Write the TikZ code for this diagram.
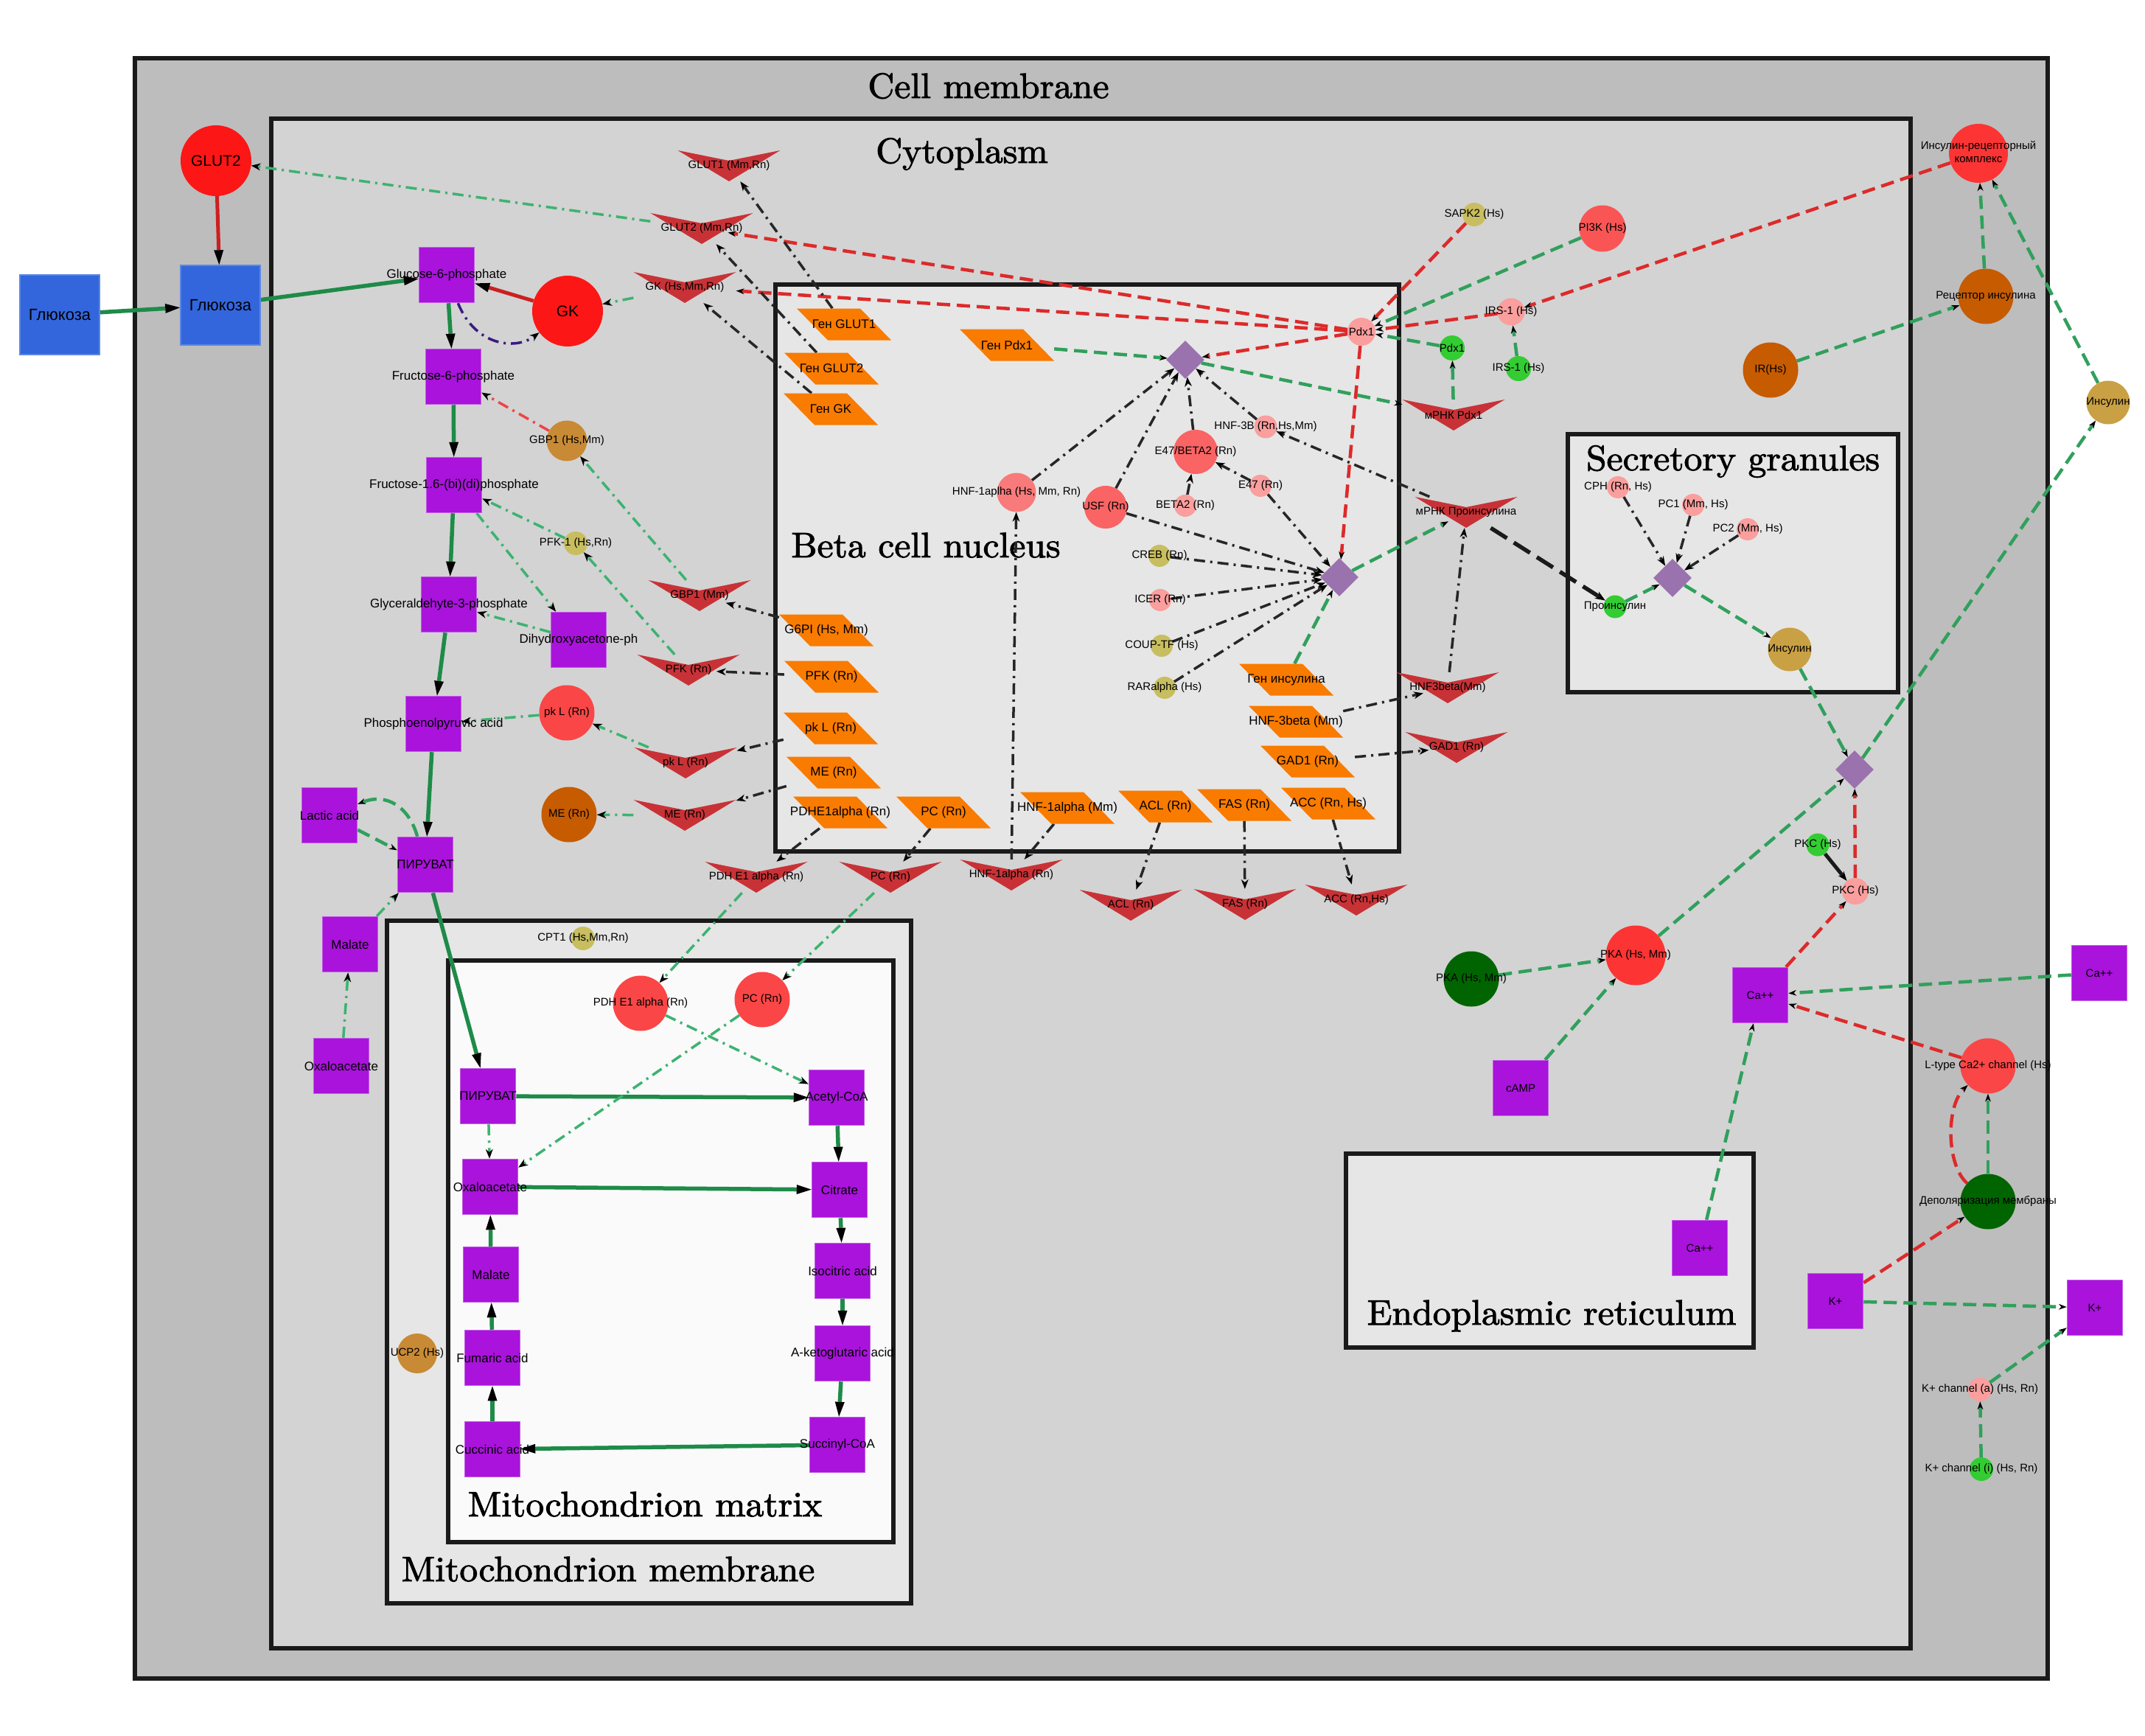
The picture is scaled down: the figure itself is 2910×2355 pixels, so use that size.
\documentclass[tikz,border=0pt]{standalone}
\usepackage{fontspec}
\newfontfamily\lsans{Liberation Sans}
\newfontfamily\titlefont{lmroman10-regular.otf}[FakeBold=2,FakeStretch=1.035]
\usetikzlibrary{arrows.meta,shapes.geometric}
\pgfdeclarelayer{bg}
\pgfdeclarelayer{edgelayer}
\pgfsetlayers{bg,edgelayer,main}
\definecolor{cmem}{HTML}{BDBDBD}
\definecolor{ccyt}{HTML}{D3D3D3}
\definecolor{cin}{HTML}{E6E6E6}
\definecolor{cmat}{HTML}{FAFAFA}
\definecolor{cbord}{HTML}{1A1A1A}
\definecolor{purp}{HTML}{A913DB}
\definecolor{purpb}{HTML}{C25EE6}
\definecolor{bluec}{HTML}{3366DD}
\definecolor{blueb}{HTML}{5A86E6}
\definecolor{redbig}{HTML}{FC1616}
\definecolor{redsal}{HTML}{FA4646}
\definecolor{redpka}{HTML}{FC3434}
\definecolor{redpi}{HTML}{FA5555}
\definecolor{redusf}{HTML}{FA6464}
\definecolor{redhnf}{HTML}{F87A7A}
\definecolor{pinkc}{HTML}{FA9E9E}
\definecolor{khaki}{HTML}{C8BE60}
\definecolor{brownc}{HTML}{C65B00}
\definecolor{tanc}{HTML}{C88A35}
\definecolor{insc}{HTML}{C9A043}
\definecolor{lgreen}{HTML}{33CC33}
\definecolor{dgreenc}{HTML}{006400}
\definecolor{parc}{HTML}{F97B00}
\definecolor{chevc}{HTML}{C83236}
\definecolor{diac}{HTML}{9A72AE}
\definecolor{eThick}{HTML}{1E8B48}
\definecolor{eRed}{HTML}{CC2020}
\definecolor{eGdash}{HTML}{30A05C}
\definecolor{eRdash}{HTML}{DD2A2A}
\definecolor{eGdd}{HTML}{3CB371}
\definecolor{eKdd}{HTML}{262626}
\definecolor{eRdd}{HTML}{EE4545}
\definecolor{ePdd}{HTML}{3A1A80}
\newcommand{\zl}[1]{\makebox[0pt]{#1}}
\newcommand{\lblS}{\lsans\fontsize{15}{18}\selectfont}
\newcommand{\lblM}{\lsans\fontsize{17}{20}\selectfont}
\newcommand{\lblB}{\lsans\fontsize{21}{25}\selectfont}
\newcommand{\lblG}{\lsans\fontsize{22}{26}\selectfont}
\newcommand{\lblT}{\titlefont\fontsize{48}{58}\selectfont}
\begin{document}
\begin{tikzpicture}[x=1pt,y=-1pt,
 sqp/.style={rectangle, fill=purp, draw=purpb, line width=1.5pt, minimum width=75pt, minimum height=75pt, inner sep=0pt, font=\lblM},
 sqb/.style={rectangle, fill=bluec, draw=blueb, line width=1.5pt, minimum width=108pt, minimum height=108pt, inner sep=0pt, font=\lblG},
 cir/.style={circle, inner sep=0pt, font=\lblS},
 parl/.style={rectangle, minimum width=128pt, minimum height=43pt, inner sep=0pt, font=\lblM,
   path picture={\fill[parc] (path picture bounding box.north west) -- ([xshift=86pt]path picture bounding box.north west) -- (path picture bounding box.south east) -- ([xshift=-86pt]path picture bounding box.south east) -- cycle;}},
 chev/.style={rectangle, minimum width=139pt, minimum height=42pt, inner sep=0pt, font=\lblS,
   path picture={\fill[chevc] (path picture bounding box.north west) -- ([yshift=-14pt]path picture bounding box.north) -- (path picture bounding box.north east) -- (path picture bounding box.south) -- cycle;}},
 dia/.style={diamond, fill=diac, minimum width=52pt, minimum height=52pt, inner sep=0pt},
 ttl/.style={font=\lblT, anchor=base, inner sep=0pt},
 box/.style={draw=cbord, line width=6pt},
 ethick/.style={draw=eThick, line width=5.5pt, -{Triangle[length=20pt,width=13pt,color=black,line width=0pt]}},
 ered/.style={draw=eRed, line width=5pt, -{Triangle[length=20pt,width=13pt,color=black,line width=0pt]}},
 egd/.style={draw=eGdash, line width=4.5pt, dash pattern=on 18pt off 9pt, -{Stealth[length=11pt,width=8pt,color=black,line width=0pt]}},
 erd/.style={draw=eRdash, line width=4.5pt, dash pattern=on 18pt off 9pt, -{Stealth[length=11pt,width=8pt,color=black,line width=0pt]}},
 ekd/.style={draw=cbord, line width=5.5pt, dash pattern=on 26pt off 11pt, -{Stealth[length=14pt,width=11pt,color=black,line width=0pt]}},
 egdd/.style={draw=eGdd, line width=3.5pt, dash pattern=on 15pt off 7pt on 3pt off 7pt, -{Stealth[length=13pt,width=10pt,color=black,line width=0pt]}},
 ekdd/.style={draw=eKdd, line width=3.5pt, dash pattern=on 15pt off 7pt on 3pt off 7pt, -{Stealth[length=13pt,width=10pt,color=black,line width=0pt]}},
 erdd/.style={draw=eRdd, line width=3.5pt, dash pattern=on 15pt off 7pt on 3pt off 7pt, -{Stealth[length=13pt,width=10pt,color=black,line width=0pt]}},
 epdd/.style={draw=ePdd, line width=3.5pt, dash pattern=on 15pt off 7pt on 3pt off 7pt, -{Stealth[length=13pt,width=10pt,color=black,line width=0pt]}},
 eks/.style={draw=cbord, line width=5pt, -{Stealth[length=13pt,width=10pt,color=black,line width=0pt]}}
]
\useasboundingbox (0,0) rectangle (2910,2355);
\begin{pgfonlayer}{bg}
\fill[white] (0,0) rectangle (2910,2355);
\filldraw[box, fill=cmem] (183,79) rectangle (2778,2277);
\filldraw[box, fill=ccyt] (368,161) rectangle (2592,2236);
\filldraw[box, fill=cin] (1052,386) rectangle (1898,1155);
\filldraw[box, fill=cin] (2127,589) rectangle (2575,939);
\filldraw[box, fill=cin] (1826,1565) rectangle (2379,1828);
\filldraw[box, fill=cin] (525,1249) rectangle (1236,2175);
\filldraw[box, fill=cmat] (608,1303) rectangle (1212,2092);
\node[ttl] (tcell) at (1341,133) {Cell membrane};
\node[ttl] (tcyto) at (1305,221) {Cytoplasm};
\node[ttl] (tnuc) at (1256,756) {Beta cell nucleus};
\node[ttl] (tsec) at (2351,638) {Secretory granules};
\node[ttl] (ter) at (2105,1797) {Endoplasmic reticulum};
\node[ttl] (tmat) at (875,2057) {Mitochondrion matrix};
\node[ttl] (tmem) at (825,2145) {Mitochondrion membrane};
\end{pgfonlayer}

% squares
\node[sqb] (glcout) at (81,427) {\zl{Глюкоза}};
\node[sqb] (glcin) at (299,414) {\zl{Глюкоза}};
\node[sqp] (g6p) at (606,373) {\zl{Glucose-6-phosphate}};
\node[sqp] (f6p) at (615,511) {\zl{Fructose-6-phosphate}};
\node[sqp] (f16) at (616,658) {\zl{Fructose-1.6-(bi)(di)phosphate}};
\node[sqp] (g3p) at (609,820) {\zl{Glyceraldehyte-3-phosphate}};
\node[sqp] (dhap) at (785,868) {\zl{Dihydroxyacetone-ph}};
\node[sqp] (pep) at (588,982) {\zl{Phosphoenolpyruvic acid}};
\node[sqp] (lactic) at (447,1106) {\zl{Lactic acid}};
\node[sqp] (pyr) at (577,1173) {\zl{ПИРУВАТ}};
\node[sqp] (malc) at (475,1281) {\zl{Malate}};
\node[sqp] (oxac) at (463,1446) {\zl{Oxaloacetate}};
\node[sqp] (pyrm) at (662,1487) {\zl{ПИРУВАТ}};
\node[sqp] (acoa) at (1135,1489) {\zl{Acetyl-CoA}};
\node[sqp] (oxam) at (665,1610) {\zl{Oxaloacetate}};
\node[sqp] (citr) at (1139,1614) {\zl{Citrate}};
\node[sqp] (malm) at (666,1729) {\zl{Malate}};
\node[sqp] (isoc) at (1143,1724) {\zl{Isocitric acid}};
\node[sqp] (fum) at (668,1842) {\zl{Fumaric acid}};
\node[sqp] (akg) at (1143,1836) {\zl{A-ketoglutaric acid}};
\node[sqp] (succ) at (668,1966) {\zl{Cuccinic acid}};
\node[sqp] (sucoa) at (1136,1960) {\zl{Succinyl-CoA}};
\node[sqp, font=\lblS] (camp) at (2063,1476) {\zl{cAMP}};
\node[sqp, font=\lblS] (cacyt) at (2388,1350) {\zl{Ca++}};
\node[sqp, font=\lblS] (caout) at (2848,1320) {\zl{Ca++}};
\node[sqp, font=\lblS] (caer) at (2306,1693) {\zl{Ca++}};
\node[sqp, font=\lblS] (kcyt) at (2490,1765) {\zl{K+}};
\node[sqp, font=\lblS] (kout) at (2842,1774) {\zl{K+}};

% circles
\node[cir, fill=redbig, minimum size=96pt, font=\lblB] (glut2) at (293,218) {\zl{GLUT2}};
\node[cir, fill=redbig, minimum size=96pt, font=\lblB] (gk) at (770,422) {\zl{GK}};
\node[cir, fill=tanc, minimum size=55pt] (gbp1c) at (769,598) {\zl{GBP1 (Hs,Mm)}};
\node[cir, fill=khaki, minimum size=32pt] (pfk1) at (781,737) {\zl{PFK-1 (Hs,Rn)}};
\node[cir, fill=redsal, minimum size=75pt] (pklc) at (769,967) {\zl{pk L (Rn)}};
\node[cir, fill=brownc, minimum size=75pt] (mec) at (772,1105) {\zl{ME (Rn)}};
\node[cir, fill=khaki, minimum size=32pt] (cpt1) at (791,1273) {\zl{CPT1 (Hs,Mm,Rn)}};
\node[cir, fill=redsal, minimum size=75pt] (pdhc) at (869,1361) {\zl{PDH E1 alpha (Rn)}};
\node[cir, fill=redsal, minimum size=75pt] (pcc) at (1034,1356) {\zl{PC (Rn)}};
\node[cir, fill=tanc, minimum size=54pt] (ucp2) at (566,1836) {\zl{UCP2 (Hs)}};
\node[cir, fill=pinkc, minimum size=38pt] (pdx1p) at (1847,450) {\zl{Pdx1}};
\node[cir, fill=pinkc, minimum size=31pt] (hnf3b) at (1717,579) {\zl{HNF-3B (Rn,Hs,Mm)}};
\node[cir, fill=redusf, minimum size=60pt] (e47b2) at (1622,613) {\zl{E47/BETA2 (Rn)}};
\node[cir, fill=pinkc, minimum size=30pt] (e47) at (1710,659) {\zl{E47 (Rn)}};
\node[cir, fill=pinkc, minimum size=30pt] (beta2) at (1608,686) {\zl{BETA2 (Rn)}};
\node[cir, fill=redhnf, minimum size=53pt] (hnf1a) at (1379,668) {\zl{HNF-1aplha (Hs, Mm, Rn)}};
\node[cir, fill=redusf, minimum size=58pt] (usf) at (1500,688) {\zl{USF (Rn)}};
\node[cir, fill=khaki, minimum size=30pt] (creb) at (1573,754) {\zl{CREB (Rn)}};
\node[cir, fill=pinkc, minimum size=30pt] (icer) at (1574,814) {\zl{ICER (Rn)}};
\node[cir, fill=khaki, minimum size=30pt] (coup) at (1576,876) {\zl{COUP-TF (Hs)}};
\node[cir, fill=khaki, minimum size=30pt] (rar) at (1580,933) {\zl{RARalpha (Hs)}};
\node[cir, fill=khaki, minimum size=32pt] (sapk2) at (2000,291) {\zl{SAPK2 (Hs)}};
\node[cir, fill=redpi, minimum size=63pt] (pi3k) at (2174,310) {\zl{PI3K (Hs)}};
\node[cir, fill=pinkc, minimum size=37pt] (irs1p) at (2050,423) {\zl{IRS-1 (Hs)}};
\node[cir, fill=lgreen, minimum size=34pt] (pdx1g) at (1970,472) {\zl{Pdx1}};
\node[cir, fill=lgreen, minimum size=34pt] (irs1g) at (2060,500) {\zl{IRS-1 (Hs)}};
\node[cir, fill=brownc, minimum size=75pt] (ir) at (2402,502) {\zl{IR(Hs)}};
\node[cir, fill=brownc, minimum size=75pt] (recep) at (2694,402) {\zl{Рецептор инсулина}};
\node[cir, fill=redpka, minimum size=80pt] (complex) at (2684,208) {\zl{\begin{tabular}{@{}c@{}}Инсулин-рецепторный\\комплекс\end{tabular}}};
\node[cir, fill=insc, minimum size=59pt] (insout) at (2860,546) {\zl{Инсулин}};
\node[cir, fill=pinkc, minimum size=30pt] (cph) at (2195,661) {\zl{CPH (Rn, Hs)}};
\node[cir, fill=pinkc, minimum size=30pt] (pc1) at (2297,685) {\zl{PC1 (Mm, Hs)}};
\node[cir, fill=pinkc, minimum size=30pt] (pc2) at (2371,718) {\zl{PC2 (Mm, Hs)}};
\node[cir, fill=lgreen, minimum size=31pt] (proins) at (2191,823) {\zl{Проинсулин}};
\node[cir, fill=insc, minimum size=59pt] (insgr) at (2428,881) {\zl{Инсулин}};
\node[cir, fill=dgreenc, minimum size=75pt] (pkag) at (1996,1328) {\zl{PKA (Hs, Mm)}};
\node[cir, fill=redpka, minimum size=81pt] (pkar) at (2219,1296) {\zl{PKA (Hs, Mm)}};
\node[cir, fill=lgreen, minimum size=31pt] (pkcg) at (2466,1146) {\zl{PKC (Hs)}};
\node[cir, fill=pinkc, minimum size=36pt] (pkcp) at (2517,1209) {\zl{PKC (Hs)}};
\node[cir, fill=redsal, minimum size=75pt] (ltype) at (2697,1446) {\zl{L-type Ca2+ channel (Hs)}};
\node[cir, fill=dgreenc, minimum size=75pt] (depol) at (2697,1630) {\zl{Деполяризация мембраны}};
\node[cir, fill=pinkc, minimum size=32pt] (kcha) at (2686,1885) {\zl{K+ channel (a) (Hs, Rn)}};
\node[cir, fill=lgreen, minimum size=32pt] (kchi) at (2688,1993) {\zl{K+ channel (i) (Hs, Rn)}};

% parallelograms (genes)
\node[parl] (ggl1) at (1145,440) {\zl{Ген GLUT1}};
\node[parl] (ggl2) at (1128,500) {\zl{Ген GLUT2}};
\node[parl] (ggk) at (1127,555) {\zl{Ген GK}};
\node[parl] (gpdx) at (1366,468) {\zl{Ген Pdx1}};
\node[parl] (g6pi) at (1121,855) {\zl{G6PI (Hs, Mm)}};
\node[parl] (pfkp) at (1128,918) {\zl{PFK (Rn)}};
\node[parl] (pklp) at (1127,988) {\zl{pk L (Rn)}};
\node[parl] (mep) at (1131,1048) {\zl{ME (Rn)}};
\node[parl] (pdhp) at (1140,1102) {\zl{PDHE1alpha (Rn)}};
\node[parl] (pcp) at (1280,1102) {\zl{PC (Rn)}};
\node[parl] (gins) at (1745,922) {\zl{Ген инсулина}};
\node[parl] (hnf3bp) at (1758,979) {\zl{HNF-3beta (Mm)}};
\node[parl] (gad1p) at (1774,1033) {\zl{GAD1 (Rn)}};
\node[parl] (hnf1ap) at (1448,1096) {\zl{HNF-1alpha (Mm)}};
\node[parl] (aclp) at (1581,1094) {\zl{ACL (Rn)}};
\node[parl] (fasp) at (1688,1092) {\zl{FAS (Rn)}};
\node[parl] (accp) at (1802,1090) {\zl{ACC (Rn, Hs)}};

% chevrons (mRNA)
\node[chev] (glut1ch) at (989,225) {\zl{GLUT1 (Mm,Rn)}};
\node[chev] (glut2ch) at (952,310) {\zl{GLUT2 (Mm,Rn)}};
\node[chev] (gkch) at (929,390) {\zl{GK (Hs,Mm,Rn)}};
\node[chev] (gbp1ch) at (949,808) {\zl{GBP1 (Mm)}};
\node[chev] (pfkch) at (934,909) {\zl{PFK (Rn)}};
\node[chev] (pklch) at (930,1035) {\zl{pk L (Rn)}};
\node[chev] (mech) at (929,1106) {\zl{ME (Rn)}};
\node[chev] (pdhch) at (1026,1190) {\zl{PDH E1 alpha (Rn)}};
\node[chev] (pcch) at (1208,1190) {\zl{PC (Rn)}};
\node[chev] (hnf1ach) at (1372,1187) {\zl{HNF-1alpha (Rn)}};
\node[chev] (aclch) at (1534,1228) {\zl{ACL (Rn)}};
\node[chev] (fasch) at (1689,1227) {\zl{FAS (Rn)}};
\node[chev] (accch) at (1840,1221) {\zl{ACC (Rn,Hs)}};
\node[chev] (hnf3bch) at (1964,933) {\zl{HNF3beta(Mm)}};
\node[chev] (gad1ch) at (1976,1014) {\zl{GAD1 (Rn)}};
\node[chev] (mpdx) at (1972,563) {\zl{мРНК Pdx1}};
\node[chev] (mpro) at (1989,695) {\zl{мРНК Проинсулина}};

% diamonds
\node[dia] (d1) at (1608,488) {};
\node[dia] (d2) at (1817,783) {};
\node[dia] (d3) at (2269,784) {};
\node[dia] (d4) at (2516,1044) {};

\begin{pgfonlayer}{edgelayer}
% main pathway
\draw[ethick] (glcout) -- (glcin);
\draw[ethick] (glcin) -- (g6p);
\draw[ethick] (g6p) -- (f6p);
\draw[ethick] (f6p) -- (f16);
\draw[ethick] (f16) -- (g3p);
\draw[ethick] (g3p) -- (pep);
\draw[ethick] (pep) -- (pyr);
\draw[ethick] (pyr) -- (pyrm);
\draw[ethick] (pyrm) -- (acoa);
\draw[ethick] (acoa) -- (citr);
\draw[ethick] (oxam) -- (citr);
\draw[ethick] (citr) -- (isoc);
\draw[ethick] (isoc) -- (akg);
\draw[ethick] (akg) -- (sucoa);
\draw[ethick] (sucoa) -- (succ);
\draw[ethick] (succ) -- (fum);
\draw[ethick] (fum) -- (malm);
\draw[ethick] (malm) -- (oxam);
\draw[ered] (glut2) -- (glcin);
\draw[ered] (gk) -- (g6p);
\draw[epdd] (g6p) .. controls (645,470) and (700,475) .. (gk);
% green dash-dot
\draw[egdd] (glut2ch) -- (glut2);
\draw[egdd] (gkch) -- (gk);
\draw[erdd] (gbp1c) -- (f6p);
\draw[egdd] (gbp1ch) -- (gbp1c);
\draw[egdd] (pfk1) -- (f16);
\draw[egdd] (pfkch) -- (pfk1);
\draw[egdd] (f16) -- (dhap);
\draw[egdd] (dhap) -- (g3p);
\draw[egdd] (pklc) -- (pep);
\draw[egdd] (pklch) -- (pklc);
\draw[egdd] (mech) -- (mec);
\draw[egdd] (malc) -- (pyr);
\draw[egdd] (oxac) -- (malc);
\draw[egdd] (pdhch) -- (pdhc);
\draw[egdd] (pcch) -- (pcc);
\draw[egdd] (pdhc) -- (acoa);
\draw[egdd] (pcc) -- (oxam);
\draw[egdd] (pyrm) -- (oxam);
% green dashed
\draw[egd] (lactic) -- (pyr);
\draw[egd] (pyr) .. controls (555,1095) and (525,1075) .. (lactic);
\draw[egd] (gpdx) -- (d1);
\draw[egd] (d1) -- (mpdx);
\draw[egd] (mpdx) -- (pdx1g);
\draw[egd] (pdx1g) -- (pdx1p);
\draw[egd] (pi3k) -- (pdx1p);
\draw[egd] (gins) -- (d2);
\draw[egd, shorten >=27pt] (d2) -- (mpro.center);
\draw[ekd] (mpro) -- (proins);
\draw[egd] (proins) -- (d3);
\draw[egd] (d3) -- (insgr);
\draw[egd] (insgr) -- (d4);
\draw[egd] (pkar) -- (d4);
\draw[egd] (d4) -- (insout);
\draw[egd] (insout) -- (complex);
\draw[egd] (recep) -- (complex);
\draw[egd] (ir) -- (recep);
\draw[egd] (irs1g) -- (irs1p);
\draw[egd] (pkag) -- (pkar);
\draw[egd] (camp) -- (pkar);
\draw[egd] (caout) -- (cacyt);
\draw[egd] (caer) -- (cacyt);
\draw[egd] (depol) -- (ltype);
\draw[egd] (kcyt) -- (kout);
\draw[egd] (kcha) -- (kout);
\draw[egd] (kchi) -- (kcha);
% red dashed
\draw[erd, shorten >=36pt] (pdx1p) -- (glut2ch.center);
\draw[erd] (pdx1p) -- (gkch);
\draw[erd] (pdx1p) -- (d1);
\draw[erd] (pdx1p) -- (d2);
\draw[erd] (sapk2) -- (pdx1p);
\draw[erd] (irs1p) -- (pdx1p);
\draw[erd] (complex) -- (irs1p);
\draw[erd] (pkcp) -- (d4);
\draw[erd] (cacyt) -- (pkcp);
\draw[erd] (ltype) -- (cacyt);
\draw[erd] (depol) .. controls (2640,1580) and (2640,1500) .. (ltype);
\draw[erd] (kcyt) -- (depol);
% black dash-dot
\draw[ekdd] (ggl1) -- (glut1ch);
\draw[ekdd] (ggl2) -- (glut2ch);
\draw[ekdd] (ggk) -- (gkch);
\draw[ekdd, shorten >=37pt] (g6pi) -- (gbp1ch.center);
\draw[ekdd, shorten >=38pt] (pfkp) -- (pfkch.center);
\draw[ekdd] (pklp) -- (pklch);
\draw[ekdd] (mep) -- (mech);
\draw[ekdd] (pdhp) -- (pdhch);
\draw[ekdd] (pcp) -- (pcch);
\draw[ekdd] (hnf1ap) -- (hnf1ach);
\draw[ekdd] (hnf1ach) -- (hnf1a);
\draw[ekdd] (aclp) -- (aclch);
\draw[ekdd] (fasp) -- (fasch);
\draw[ekdd] (accp) -- (accch);
\draw[ekdd, shorten >=34pt] (hnf3bp) -- (hnf3bch.center);
\draw[ekdd, shorten >=38pt] (gad1p) -- (gad1ch.center);
\draw[ekdd] (hnf3bch) -- (mpro);
\draw[ekdd] (mpro) -- (hnf3b);
\draw[ekdd] (hnf1a) -- (d1);
\draw[ekdd] (usf) -- (d1);
\draw[ekdd] (e47b2) -- (d1);
\draw[ekdd] (hnf3b) -- (d1);
\draw[ekdd] (beta2) -- (e47b2);
\draw[ekdd] (e47) -- (e47b2);
\draw[ekdd] (e47) -- (d2);
\draw[ekdd] (usf) -- (d2);
\draw[ekdd] (creb) -- (d2);
\draw[ekdd] (icer) -- (d2);
\draw[ekdd] (coup) -- (d2);
\draw[ekdd] (rar) -- (d2);
\draw[ekdd] (cph) -- (d3);
\draw[ekdd] (pc1) -- (d3);
\draw[ekdd] (pc2) -- (d3);
\draw[eks] (pkcg) -- (pkcp);
\end{pgfonlayer}
\end{tikzpicture}
\end{document}
